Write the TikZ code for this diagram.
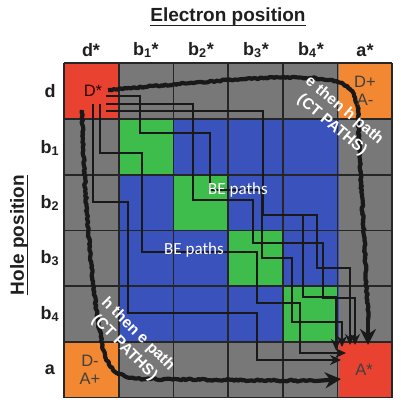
\documentclass[tikz,border=0pt]{standalone}
\usepackage{fontspec}
\setmainfont{Liberation Sans}
\newfontfamily\calibrifont{Carlito}
\usetikzlibrary{arrows.meta,decorations.pathmorphing,calc}
\definecolor{cellgray}{RGB}{120,120,120}
\definecolor{cellblue}{RGB}{58,82,188}
\definecolor{cellgreen}{RGB}{62,188,76}
\definecolor{cellred}{RGB}{233,66,48}
\definecolor{cellorange}{RGB}{242,136,50}
\definecolor{gridcol}{RGB}{38,38,38}
\definecolor{pathcol}{RGB}{25,25,25}
\tikzset{
  titlelab/.style={font=\fontsize{19}{21}\selectfont\bfseries, text=black!88, inner sep=0pt},
  axlab/.style={font=\fontsize{18}{20}\selectfont\bfseries, text=black!88, inner sep=0pt},
  celltext/.style={font=\fontsize{16.5}{18}\selectfont, text=black!75, align=center, inner sep=0pt},
  betext/.style={font=\calibrifont\fontsize{17}{19}\selectfont, text=white, inner sep=0pt},
  cttext/.style={font=\fontsize{15.5}{19}\selectfont\bfseries, text=white, align=center, inner sep=0pt},
  bepath/.style={line width=2.6pt, draw=pathcol, -{Stealth[length=11pt,width=10pt]}},
  ctpath/.style={line width=4.2pt, draw=pathcol, line join=round, decorate,
    decoration={random steps,segment length=2pt,amplitude=0.9pt}},
  ctarrow/.style={line width=4.2pt, draw=pathcol, -{Stealth[length=16pt,width=16pt]}},
  gridline/.style={line width=1.8pt, draw=gridcol},
}
\begin{document}
\begin{tikzpicture}[x=1pt,y=-1pt]
\useasboundingbox (0,0) rectangle (400,407);
\fill[white] (0,0) rectangle (400,407);
% cells
\fill[cellgray] (64,63.3) rectangle (392.2,397.5);
\fill[cellblue] (118.7,119) rectangle (338.5,341.8);
\foreach \k in {1,...,4}{
  \fill[cellgreen] ({64+54.7*\k},{63.3+55.7*\k}) rectangle ({64+54.7*(\k+1)},{63.3+55.7*(\k+1)});
}
\fill[cellred] (64,63.3) rectangle (118.7,119);
\fill[cellred] (338.5,341.8) rectangle (392.2,397.5);
\fill[cellorange] (338.5,63.3) rectangle (392.2,119);
\fill[cellorange] (64,341.8) rectangle (118.7,397.5);
% grid
\foreach \k in {0,...,6}{
  \draw[gridline] ({64+54.7*\k},63.3) -- ({64+54.7*\k},397.5);
  \draw[gridline] (64,{63.3+55.7*\k}) -- (392.2,{63.3+55.7*\k});
}
% labels
\node[titlelab] (title) at (228,17) {Electron position};
\draw[line width=1.5pt, black!88] ($(title.base west)+(0,3.5)$) -- ($(title.base east)+(0,3.5)$);
\node[titlelab, rotate=90] (hole) at (19,235) {Hole position};
\draw[line width=1.5pt, black!88] ($(hole.base west)+(3.5,0)$) -- ($(hole.base east)+(3.5,0)$);
\node[axlab] (cd) at (91,50) {d*};
\node[axlab] (cb1) at (146,50) {b\textsubscript{1}*};
\node[axlab] (cb2) at (201,50) {b\textsubscript{2}*};
\node[axlab] (cb3) at (256,50) {b\textsubscript{3}*};
\node[axlab] (cb4) at (311,50) {b\textsubscript{4}*};
\node[axlab] (ca) at (365,50) {a*};
\node[axlab] (rd) at (50,91) {d};
\node[axlab] (rb1) at (50,148) {b\textsubscript{1}};
\node[axlab] (rb2) at (50,203) {b\textsubscript{2}};
\node[axlab] (rb3) at (50,258) {b\textsubscript{3}};
\node[axlab] (rb4) at (50,314) {b\textsubscript{4}};
\node[axlab] (ra) at (50,370) {a};
% named coordinates for path ends
\coordinate (s1) at (106,96);
\coordinate (s2) at (106,104);
\coordinate (s3) at (106,111);
\coordinate (s4) at (100,104);
\coordinate (s5) at (93,104);
\coordinate (e1) at (342,347);
\coordinate (e2) at (355,345);
\coordinate (e3) at (336,350);
\coordinate (e4) at (350,345);
\coordinate (e5) at (346,353);
\coordinate (e6) at (341,360);
\coordinate (br) at (263,215);
% BE paths
\draw[bepath] (s1) -| (140,133) -| (210,190) -| (262,258) -| (292,322) -| (e1);
\draw[bepath] (s2) -| (193,200) -| (253,243) -| (323,298) -| (e2);
\draw[bepath] (s3) -| (br) -| (303,297) -| (e3);
\draw[bepath] (br) -| (317,268) -| (e4);
\draw[bepath] (s4) |- (142,153) |- (257,252) |- (300,303) |- (e5);
\draw[bepath] (s5) |- (128,202) |- (257,313) |- (e6);
% CT paths
\coordinate (ct1s) at (108,90);
\coordinate (ct1e) at (368,320);
\coordinate (ct1t) at (368,345);
\coordinate (ct2s) at (82,110);
\coordinate (ct2e) at (316,381);
\coordinate (ct2t) at (341,379);
\draw[ctpath] (ct1s) .. controls (200,82) and (290,73) .. (330,80)
  .. controls (348,83) and (356,92) .. (358,110)
  .. controls (360,180) and (366,260) .. (ct1e);
\draw[ctarrow] (ct1e) -- (ct1t);
\draw[ctpath] (ct2s) .. controls (85,220) and (95,320) .. (105,355)
  .. controls (112,375) and (125,379) .. (150,379) -- (ct2e);
\draw[ctarrow] (ct2e) -- (ct2t);
% cell texts
\node[celltext, text=black!80!red] (dstar) at (93,91) {D*};
\node[celltext] (dpam) at (365,91) {D+\\A-};
\node[celltext] (dmap) at (90,370) {D-\\A+};
\node[celltext] (astar) at (364,370) {A*};
\node[betext] (be1) at (238,190) {BE paths};
\node[betext] (be2) at (194,250) {BE paths};
\node[cttext, rotate=-40] (ct1) at (338,118) {e then h path\\(CT PATHS)};
\node[cttext, rotate=-45] (ct2) at (131,341) {h then e path\\(CT PATHS)};
\end{tikzpicture}
\end{document}
